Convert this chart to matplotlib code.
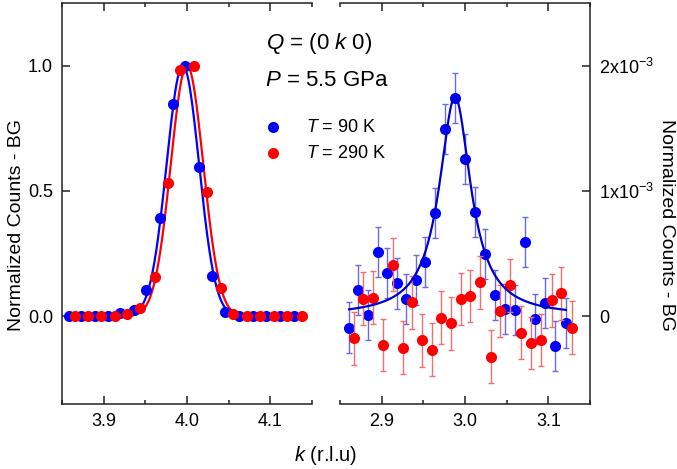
import numpy as np
from matplotlib import pyplot as plt
from matplotlib.lines import Line2D
from matplotlib.ticker import MultipleLocator

plt.rcParams['font.family'] = ['Liberation Sans', 'DejaVu Sans']
plt.rcParams['mathtext.fontset'] = 'custom'
plt.rcParams['mathtext.rm'] = 'Liberation Sans'
plt.rcParams['mathtext.it'] = 'Liberation Sans:italic'

# 左图: k ~ 4 的强峰 (归一化)
k_left_90 = [3.858, 3.873, 3.889, 3.905, 3.920, 3.936, 3.951, 3.967, 3.983, 3.998,
             4.014, 4.030, 4.046, 4.063, 4.079, 4.095, 4.112, 4.128]
I_left_90 = [0.0, 0.0, 0.0, 0.002, 0.013, 0.027, 0.103, 0.393, 0.847, 1.0,
             0.597, 0.16, 0.017, 0.0, 0.0, 0.0, 0.0, 0.0]
k_left_290 = [3.865, 3.881, 3.897, 3.913, 3.928, 3.944, 3.961, 3.977, 3.992, 4.008,
              4.024, 4.041, 4.055, 4.072, 4.088, 4.104, 4.120, 4.138]
I_left_290 = [0.0, 0.0, 0.0, 0.0, 0.01, 0.035, 0.157, 0.531, 0.984, 1.0,
              0.496, 0.111, 0.011, 0.0, 0.0, 0.0, 0.0, 0.0]

# 高斯拟合参数: 中心, sigma, 幅度
fit_left_90 = (3.995, 0.0195, 1.0)
fit_left_290 = (4.000, 0.0195, 1.0)

# 右图: k ~ 3 的弱峰 (单位 1e-3)
k_right_90 = [2.861, 2.872, 2.883, 2.895, 2.906, 2.918, 2.929, 2.941, 2.952, 2.964,
              2.976, 2.988, 3.000, 3.012, 3.024, 3.036, 3.048, 3.060, 3.072, 3.084,
              3.096, 3.108, 3.121]
I_right_90 = [-0.09, 0.209, 0.008, 0.513, 0.347, 0.262, 0.14, 0.291, 0.431, 0.823,
              1.492, 1.74, 1.254, 0.833, 0.497, 0.169, 0.061, 0.048, 0.593, -0.024,
              0.103, -0.235, -0.053]
err_right_90 = [0.2] * len(k_right_90)

k_right_290 = [2.867, 2.878, 2.890, 2.902, 2.913, 2.925, 2.936, 2.948, 2.960, 2.971,
               2.983, 2.995, 3.006, 3.018, 3.031, 3.042, 3.054, 3.067, 3.079, 3.091,
               3.104, 3.115, 3.128]
I_right_290 = [-0.177, 0.14, 0.148, -0.23, 0.413, -0.251, 0.111, -0.193, -0.267, -0.011,
               -0.056, 0.137, 0.161, 0.272, -0.323, 0.042, 0.246, -0.13, -0.214, -0.19,
               0.127, 0.183, -0.09]
err_right_290 = [0.21] * len(k_right_290)

# 洛伦兹拟合参数: 中心, 半宽, 幅度, 背景 (单位 1e-3)
fit_right_90 = (2.988, 0.023, 1.75, 0.0)

blue = '#0000ff'
red = '#ff0000'


def gauss(x, c, s, a):
    return a * np.exp(-(x - c) ** 2 / (2 * s ** 2))


def lorentz(x, c, g, a, b):
    return a * g ** 2 / ((x - c) ** 2 + g ** 2) + b


fig = plt.figure(figsize=(6.77, 4.69), dpi=100)
W, H = 677.0, 469.0
ax1 = fig.add_axes([62 / W, 65 / H, 250 / W, 401 / H])
ax2 = fig.add_axes([340 / W, 65 / H, 250 / W, 401 / H])

# 左图
kk = np.linspace(3.855, 4.14, 400)
ax1.plot(kk, gauss(kk, *fit_left_90), color=blue, lw=1.6, zorder=2)
ax1.plot(kk, gauss(kk, *fit_left_290), color=red, lw=1.6, zorder=2)
ax1.plot(k_left_90, I_left_90, 'o', color=blue, ms=8, mec='none', zorder=3)
ax1.plot(k_left_290, I_left_290, 'o', color=red, ms=8, mec='none', zorder=4)
ax1.set_xlim(3.85, 4.15)
ax1.set_ylim(-0.35, 1.25)
ax1.set_xticks([3.9, 4.0, 4.1])
ax1.set_xticklabels(['3.9', '4.0', '4.1'])
ax1.xaxis.set_minor_locator(MultipleLocator(0.05))
ax1.set_yticks([0.0, 0.5, 1.0])
ax1.set_yticklabels(['0.0', '0.5', '1.0'])
ax1.spines['right'].set_visible(False)

# 右图
scale = 1e-3
kr = np.linspace(k_right_90[0], k_right_90[-1], 400)
ax2.errorbar(k_right_90, np.array(I_right_90) * scale, yerr=np.array(err_right_90) * scale,
             fmt='o', color=blue, ms=8, mec='none', ecolor='#6a6ae8', elinewidth=1,
             capsize=2.5, capthick=1, zorder=3)
ax2.errorbar(k_right_290, np.array(I_right_290) * scale, yerr=np.array(err_right_290) * scale,
             fmt='o', color=red, ms=8, mec='none', ecolor='#f07070', elinewidth=1,
             capsize=2.5, capthick=1, zorder=4)
ax2.plot(kr, lorentz(kr, *fit_right_90) * scale, color='#0000cc', lw=1.6, zorder=5)
ax2.set_xlim(2.85, 3.15)
ax2.set_ylim(-0.35 * 2e-3, 1.25 * 2e-3)
ax2.set_xticks([2.9, 3.0, 3.1])
ax2.set_xticklabels(['2.9', '3.0', '3.1'])
ax2.xaxis.set_minor_locator(MultipleLocator(0.05))
ax2.set_yticks([0, 1e-3, 2e-3])
ax2.set_yticklabels(['0', r'1x10$^{-3}$', r'2x10$^{-3}$'])
ax2.yaxis.tick_right()
ax2.spines['left'].set_visible(False)

for ax in (ax1, ax2):
    for sp in ax.spines.values():
        sp.set_linewidth(1.1)
        sp.set_color('#222222')
    ax.tick_params(which='major', direction='in', length=5.5, width=1.1,
                   labelsize=13, pad=6.5, color='#222222')
    ax.tick_params(which='minor', direction='in', length=3, width=1.1, color='#222222')
    ax.tick_params(axis='x', which='both', top=True, bottom=True)
ax1.tick_params(axis='y', left=True, right=False)
ax2.tick_params(axis='y', left=False, right=True, labelleft=False, labelright=True)

# 轴标签
fig.text(326 / W, 1 - 455 / H, r'$k$ (r.l.u)', fontsize=14.5, ha='center', va='center')
fig.text(17 / W, 1 - 225 / H, 'Normalized Counts - BG', fontsize=14,
         rotation=90, ha='center', va='center')
fig.text(667 / W, 1 - 225 / H, 'Normalized Counts - BG', fontsize=14,
         rotation=270, ha='center', va='center')

# 注释
fig.text(266 / W, 1 - 43 / H, r'$Q$ = (0 $k$ 0)', fontsize=16, ha='left', va='center')
fig.text(265 / W, 1 - 81 / H, r'$P$ = 5.5 GPa', fontsize=16, ha='left', va='center')

# 图例
legend_rows = [(127, blue, r'$T$ = 90 K'), (153, red, r'$T$ = 290 K')]
for y, c, txt in legend_rows:
    fig.add_artist(Line2D([272.7 / W], [1 - y / H], marker='o', color=c, ms=8,
                          mec='none', transform=fig.transFigure))
    fig.text(306 / W, 1 - y / H, txt, fontsize=13, ha='left', va='center')

fig.savefig('out.png', dpi=100)
